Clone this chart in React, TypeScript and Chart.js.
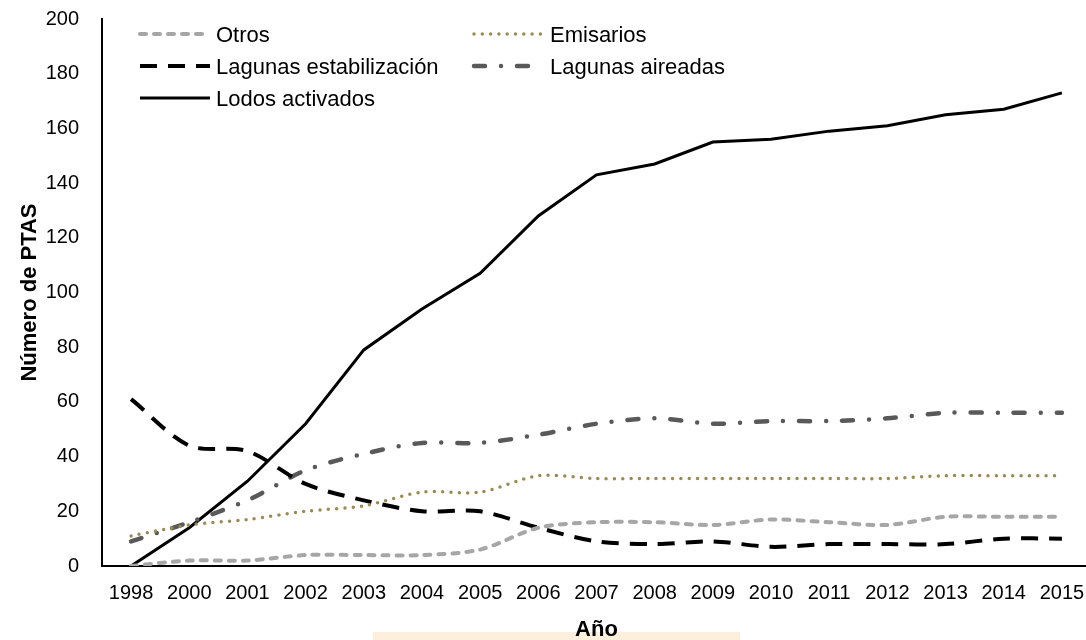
import React, { useEffect, useRef } from "react";
import { Chart, registerables } from "chart.js";

Chart.register(...registerables);

const years = ["1998", "2000", "2001", "2002", "2003", "2004", "2005", "2006", "2007", "2008", "2009", "2010", "2011", "2012", "2013", "2014", "2015"];
const otros = [0, 2, 2, 4, 4, 4, 6, 14, 16, 16, 15, 17, 16, 15, 18, 18, 18];
const emisarios = [11, 15, 17, 20, 22, 27, 27, 33, 32, 32, 32, 32, 32, 32, 33, 33, 33];
const lagunasEstabilizacion = [61, 44, 42, 30, 24, 20, 20, 14, 9, 8, 9, 7, 8, 8, 8, 10, 10];
const lagunasAireadas = [9, 16, 24, 35, 41, 45, 45, 48, 52, 54, 52, 53, 53, 54, 56, 56, 56];
const lodosActivados = [0, 14, 31, 52, 79, 94, 107, 128, 143, 147, 155, 156, 159, 161, 165, 167, 173];
const yMin = 0;
const yMax = 200;
const yStep = 20;
const xTitle = "Año";
const yTitle = "Número de PTAS";

const FONT = '"Liberation Sans", Arial, sans-serif';

const legendPlugin = {
  id: "customLegend",
  afterDraw(chart: any) {
    const { ctx, chartArea } = chart;
    const colX = [chartArea.left + 38, chartArea.left + 372];
    const rowY0 = chartArea.top + 17;
    const rowH = 32;
    const sampleW = 70;
    ctx.save();
    chart.data.datasets.forEach((ds: any, i: number) => {
      const col = i % 2;
      const row = Math.floor(i / 2);
      const x = colX[col];
      const y = rowY0 + row * rowH;
      ctx.beginPath();
      ctx.strokeStyle = ds.borderColor;
      ctx.lineWidth = ds.borderWidth;
      ctx.lineCap = ds.borderCapStyle || "butt";
      ctx.setLineDash(ds.borderDash || []);
      ctx.moveTo(x, y - 2);
      ctx.lineTo(x + sampleW, y - 2);
      ctx.stroke();
      ctx.setLineDash([]);
      ctx.fillStyle = "#000";
      ctx.font = `22px ${FONT}`;
      ctx.textBaseline = "middle";
      ctx.textAlign = "left";
      ctx.fillText(ds.label, x + sampleW + 6, y);
    });
    ctx.restore();
  },
};

const boxPlugin = {
  id: "titleBox",
  beforeDraw(chart: any) {
    const { ctx } = chart;
    ctx.save();
    ctx.fillStyle = "#FCF0DC";
    ctx.fillRect(373, 632, 367, 8);
    ctx.restore();
  },
};

export default function App() {
  const ref = useRef<HTMLCanvasElement | null>(null);
  useEffect(() => {
    if (!ref.current) return;
    const chart = new Chart(ref.current, {
      type: "line",
      data: {
        labels: years,
        datasets: [
          {
            label: "Otros",
            data: otros,
            borderColor: "#A6A6A6",
            borderWidth: 4,
            borderDash: [6, 8],
            borderCapStyle: "round",
            tension: 0.3,
            pointRadius: 0,
            fill: false,
          },
          {
            label: "Emisarios",
            data: emisarios,
            borderColor: "#9C8A50",
            borderWidth: 3.5,
            borderDash: [0, 8.3],
            borderCapStyle: "round",
            tension: 0.3,
            pointRadius: 0,
            fill: false,
          },
          {
            label: "Lagunas estabilización",
            data: lagunasEstabilizacion,
            borderColor: "#000000",
            borderWidth: 4,
            borderDash: [17, 11],
            borderCapStyle: "butt",
            tension: 0.3,
            pointRadius: 0,
            fill: false,
          },
          {
            label: "Lagunas aireadas",
            data: lagunasAireadas,
            borderColor: "#595959",
            borderWidth: 4.5,
            borderDash: [11, 16, 0, 16],
            borderCapStyle: "round",
            tension: 0.3,
            pointRadius: 0,
            fill: false,
          },
          {
            label: "Lodos activados",
            data: lodosActivados,
            borderColor: "#000000",
            borderWidth: 3,
            tension: 0,
            pointRadius: 0,
            fill: false,
          },
        ],
      },
      options: {
        responsive: false,
        animation: false,
        layout: { padding: { top: 19, right: 0, bottom: 0, left: 0 } },
        plugins: {
          legend: { display: false },
          tooltip: { enabled: false },
        },
        scales: {
          x: {
            type: "category",
            offset: true,
            grid: { display: false, drawTicks: false },
            border: { display: true, color: "#000", width: 2 },
            ticks: { color: "#000", font: { family: FONT, size: 20 }, padding: 15, maxRotation: 0, autoSkip: false },
            title: { display: true, text: xTitle, color: "#000", font: { family: FONT, size: 22, weight: "bold" }, padding: { top: 0, bottom: -3 } },
            afterFit(s: any) {
              s.height = 74;
              s.paddingLeft = 0;
              s.paddingRight = 0;
            },
          },
          y: {
            min: yMin,
            max: yMax,
            grid: { display: false, drawTicks: false },
            border: { display: true, color: "#000", width: 2 },
            ticks: { stepSize: yStep, color: "#000", font: { family: FONT, size: 20 }, padding: 23 },
            title: { display: true, text: yTitle, color: "#000", font: { family: FONT, size: 22, weight: "bold" }, padding: { top: 17, bottom: 0 } },
            afterFit(s: any) {
              s.width = 102;
              s.paddingTop = 0;
              s.paddingBottom = 0;
            },
          },
        },
      },
      plugins: [boxPlugin, legendPlugin],
    } as any);
    return () => chart.destroy();
  }, []);
  return (
    <div style={{ position: "absolute", left: 0, top: 0, width: 1086, height: 640, overflow: "hidden", background: "#fff" }}>
      <canvas ref={ref} width={1091} height={640} style={{ display: "block" }} />
    </div>
  );
}
